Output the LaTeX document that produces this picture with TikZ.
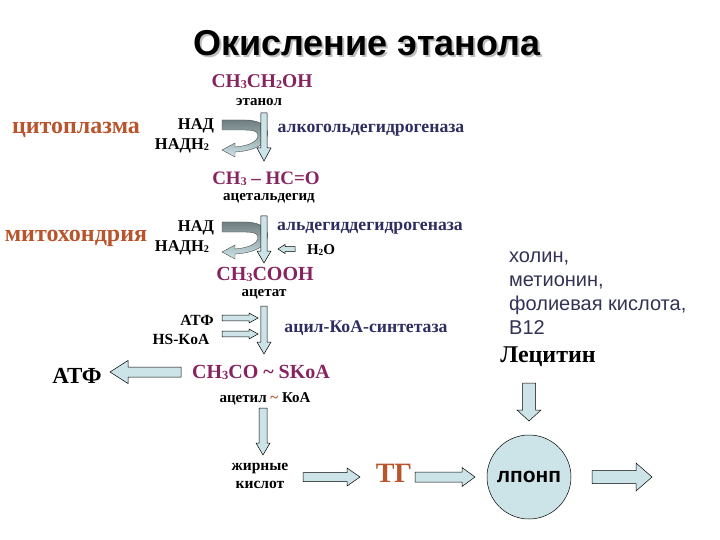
\documentclass[tikz,border=0pt]{standalone}
\usepackage{fontspec}
\setmainfont{Liberation Serif}
\newfontfamily\arialfont{Liberation Sans}
\usetikzlibrary{calc}

\definecolor{formula}{RGB}{135,35,95}
\definecolor{place}{RGB}{185,85,45}
\definecolor{enzyme}{RGB}{45,45,95}
\definecolor{arrowfill}{RGB}{204,228,232}
\definecolor{bandgray}{RGB}{110,125,128}
\definecolor{listtext}{RGB}{50,50,85}

% small index figures, set on the line as in the slide
\newcommand{\idx}[1]{\raisebox{-.05em}{\scalebox{.62}{#1}}}
\newcommand{\fs}[1]{\fontsize{#1}{#1}\selectfont}

% block arrow: start, end, half shaft, half head, head length
\newcommand{\blockarrow}[5]{%
  \coordinate (bac) at ($#2!#5!#1$);
  \draw[barrow] ($#1!#3!90:#2$) -- ($(bac)!#3!90:#2$) -- ($(bac)!#4!90:#2$) -- #2
    -- ($(bac)!#4!-90:#2$) -- ($(bac)!#3!-90:#2$) -- ($#1!#3!-90:#2$) -- cycle;}

% bent arrow of the coenzyme
\newcommand{\nadarrow}[1]{%
  \draw[shift={#1},draw=black!70,line width=.4pt,top color=bandgray,bottom color=arrowfill]
    (222,120) -- (245,120) .. controls (262,120) and (270,128) .. (267,137)
    .. controls (264,146) and (252,151) .. (235,152) -- (235,157) -- (222,150)
    -- (235,143) -- (235,147) .. controls (248,146) and (257,142) .. (258,136)
    .. controls (259,131) and (252,130) .. (245,130) -- (222,130) -- cycle;}

\begin{document}
\begin{tikzpicture}[x=1pt,y=-1pt,line join=miter,
  barrow/.style={fill=arrowfill,draw=black,line width=.5pt},
  chem/.style={font=\fs{20}\bfseries,text=formula,inner sep=0pt},
  lbl/.style={font=\fs{15}\bfseries,inner sep=0pt},
  coenz/.style={font=\fs{16.5}\bfseries,inner sep=0pt},
  enz/.style={font=\fs{17.7}\bfseries,text=enzyme,inner sep=0pt},
  compart/.style={font=\fs{24}\bfseries,text=place,inner sep=0pt}]
\useasboundingbox (0,0) rectangle (720,540);

% title
\node[font=\arialfont\fs{36}\bfseries,text=black!25] (ttlshadow) at (369,45) {Окисление этанола};
\node[font=\arialfont\fs{36}\bfseries] (ttl) at (367,43) {Окисление этанола};

% compartments
\node[compart] (cyto) at (76,130) {цитоплазма};
\node[compart] (mito) at (76,238) {митохондрия};

% substrates
\node[chem,font=\fs{19.5}\bfseries] (etoh) at (262,82) {CH\idx{3}CH\idx{2}OH};
\node[lbl] (etohn) at (259,102) {этанол};
\node[chem,font=\fs{19}\bfseries] (ald) at (266,179) {CH\idx{3} -- HC=O};
\node[lbl] (aldn) at (269,198) {ацетальдегид};
\node[chem] (acet) at (265,274) {CH\idx{3}COOH};
\node[lbl] (acetn) at (264,294) {ацетат};
\node[chem] (acoa) at (261,372) {CH\idx{3}CO \textasciitilde\ SKoA};
\node[lbl] (acoan) at (265,399) {ацетил {\color{place}\textasciitilde} КоА};
\node[lbl,font=\fontsize{15.5}{18}\selectfont\bfseries,align=center] (fa) at (260,476) {жирные\\кислот};

% coenzymes
\node[coenz] (nad1) at (196,126) {НАД};
\node[coenz] (nadh1) at (182,146) {НАДН\idx{2}};
\node[coenz] (nad2) at (196,228) {НАД};
\node[coenz] (nadh2) at (182,248) {НАДН\idx{2}};
\node[coenz,font=\fs{15}\bfseries] (water) at (321,250) {H\idx{2}O};
\node[coenz,font=\fs{15.5}\bfseries] (atp1) at (197,320) {АТФ};
\node[coenz,font=\fs{15.5}\bfseries] (hskoa) at (181,339) {HS-KoA};
\node[font=\fs{23}\bfseries,inner sep=0pt] (atp2) at (77,376) {АТФ};

% enzymes
\node[enz] (adh) at (371,130) {алкогольдегидрогеназа};
\node[enz] (aldh) at (370,228) {альдегиддегидрогеназа};
\node[enz] (acs) at (366,328) {ацил-КоА-синтетаза};

% right part
\node[font=\arialfont\fontsize{20}{24}\selectfont,text=listtext,align=left,anchor=north west,inner sep=0pt] (vit) at (509,252)
  {холин,\\метионин,\\фолиевая кислота,\\B12};
\node[font=\fs{24}\bfseries,inner sep=0pt] (lec) at (548,357) {Лецитин};
\node[font=\fs{28}\bfseries,text=place,inner sep=0pt] (tg) at (394,473) {ТГ};
\node[circle,draw=black,line width=.5pt,fill=arrowfill,minimum size=84pt,inner sep=0pt,
  font=\arialfont\fs{21}\bfseries] (vldl) at (529,477) {лпонп};

% arrow ends
\coordinate (s1) at (264,113);  \coordinate (e1) at (264,161);
\coordinate (s2) at (264,216);  \coordinate (e2) at (264,263);
\coordinate (s3) at (264,306);  \coordinate (e3) at (264,354);
\coordinate (s4) at (263,408);  \coordinate (e4) at (263,455);
\coordinate (w1) at (295,249);  \coordinate (w2) at (278,249);
\coordinate (p1) at (222,318);  \coordinate (p2) at (258,318);
\coordinate (q1) at (222,334);  \coordinate (q2) at (258,334);
\coordinate (r1) at (181,372);  \coordinate (r2) at (110,372);
\coordinate (f1) at (303,477);  \coordinate (f2) at (360,477);
\coordinate (t1) at (415,477);  \coordinate (t2) at (475,477);
\coordinate (v1) at (592,477);  \coordinate (v2) at (652,477);
\coordinate (l1) at (529,383);  \coordinate (l2) at (529,421);

\nadarrow{(0,0)}
\nadarrow{(0,102)}
\blockarrow{(s1)}{(e1)}{3.2pt}{7pt}{13pt}
\blockarrow{(s2)}{(e2)}{3.2pt}{7pt}{12pt}
\blockarrow{(s3)}{(e3)}{3.2pt}{7pt}{12pt}
\blockarrow{(s4)}{(e4)}{4pt}{7pt}{12pt}
\blockarrow{(w1)}{(w2)}{2.5pt}{4.5pt}{7pt}
\blockarrow{(p1)}{(p2)}{2.8pt}{5pt}{9pt}
\blockarrow{(q1)}{(q2)}{2.8pt}{5pt}{9pt}
\blockarrow{(r1)}{(r2)}{5pt}{11.5pt}{18pt}
\blockarrow{(f1)}{(f2)}{4.5pt}{9pt}{13pt}
\blockarrow{(t1)}{(t2)}{5pt}{9.5pt}{13pt}
\blockarrow{(v1)}{(v2)}{6.5pt}{14pt}{16pt}
\blockarrow{(l1)}{(l2)}{6.5pt}{12pt}{11pt}
\end{tikzpicture}
\end{document}
